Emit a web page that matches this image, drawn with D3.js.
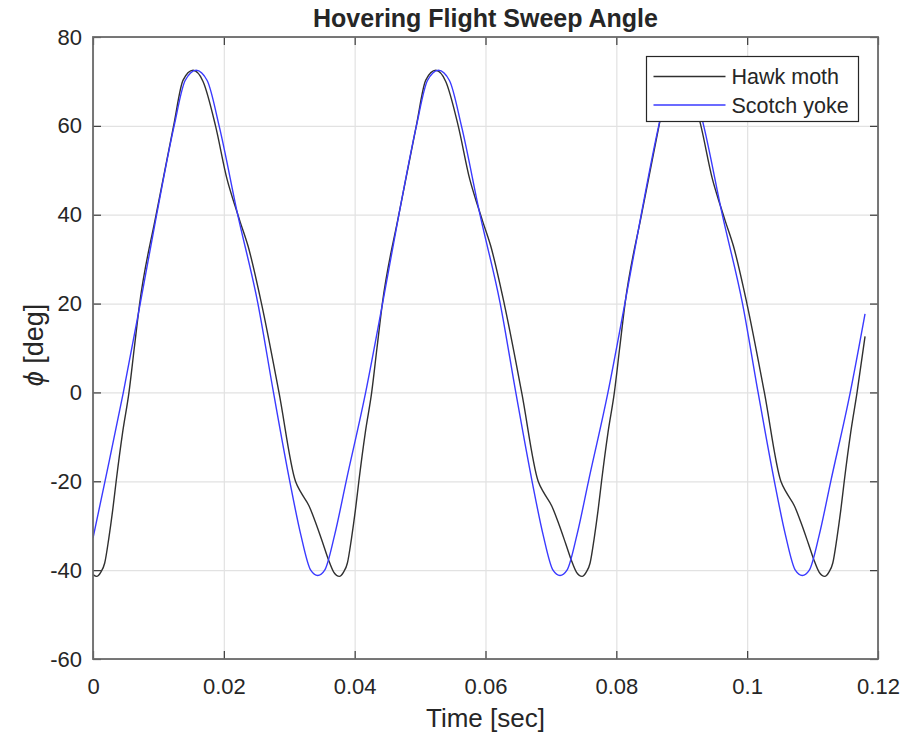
<!DOCTYPE html>
<html>
<head>
<meta charset="utf-8">
<script src="https://cdn.jsdelivr.net/npm/d3@7"></script>
<style>
    body { margin: 0; background: #fff; }
    text { font-family: "Liberation Sans", Arial, sans-serif; fill: #262626; }
</style>
</head>
<body>
<div id="GraphDiv"></div>
<script>
// Data: time [sec] and sweep angle phi [deg].
const hawkTime = [0, 0.00056, 0.00118, 0.00179, 0.00240, 0.00301, 0.00354, 0.00453, 0.00550, 0.00631, 0.00713,
    0.00965, 0.01232, 0.01377, 0.01530, 0.01682, 0.01873, 0.02049, 0.02171, 0.02247, 0.02369,
    0.02576, 0.02843, 0.03095, 0.03179, 0.03301, 0.03408, 0.03515, 0.03598, 0.03682, 0.03766,
    0.03828, 0.03889, 0.03950, 0.04011, 0.04064, 0.04163, 0.04260, 0.04341, 0.04423, 0.04675,
    0.04942, 0.05087, 0.05240, 0.05392, 0.05583, 0.05759, 0.05881, 0.05957, 0.06079, 0.06286,
    0.06553, 0.06805, 0.06889, 0.07011, 0.07118, 0.07225, 0.07308, 0.07392, 0.07476,
    0.07538, 0.07599, 0.07660, 0.07721, 0.07774, 0.07873, 0.07970, 0.08051, 0.08133, 0.08385,
    0.08652, 0.08797, 0.08950, 0.09102, 0.09293, 0.09469, 0.09591, 0.09667, 0.09789, 0.09996,
    0.10263, 0.10515, 0.10599, 0.10721, 0.10828, 0.10935, 0.11018, 0.11102, 0.11186,
    0.11248, 0.11309, 0.11370, 0.11431, 0.11484, 0.11583, 0.11680, 0.11802];
const hawkPhi = [-41.0, -41.4, -40.5, -38.4, -33, -26.5, -20, -9, 0, 10, 20,
    40, 60, 70.3, 72.5, 70.0, 60, 48, 42, 38.5, 33,
    20, 0, -20, -22.5, -25.5, -29.5, -34, -37.6, -40.5, -41.4,
    -40.5, -38.4, -33, -26.5, -20, -9, 0, 10, 20, 40,
    60, 70.3, 72.5, 70.0, 60, 48, 42, 38.5, 33, 20,
    0, -20, -22.5, -25.5, -29.5, -34, -37.6, -40.5, -41.4,
    -40.5, -38.4, -33, -26.5, -20, -9, 0, 10, 20, 40,
    60, 70.3, 72.5, 70.0, 60, 48, 42, 38.5, 33, 20,
    0, -20, -22.5, -25.5, -29.5, -34, -37.6, -40.5, -41.4,
    -40.5, -38.4, -33, -26.5, -20, -9, 0, 12.6];

const yokeTime = [0, 0.00183, 0.00464, 0.00722, 0.00973, 0.01240, 0.01409, 0.01577, 0.01745, 0.01928,
    0.02212, 0.02521, 0.02759, 0.03008, 0.03176, 0.03328, 0.03435, 0.03542, 0.03695, 0.03870,
    0.04168, 0.04426, 0.04676, 0.04944, 0.05113, 0.05281, 0.05449, 0.05632, 0.05916, 0.06225,
    0.06463, 0.06712, 0.06880, 0.07032, 0.07139, 0.07246, 0.07399, 0.07574, 0.07872, 0.08130,
    0.08380, 0.08648, 0.08817, 0.08985, 0.09153, 0.09336, 0.09620, 0.09929, 0.10167, 0.10416,
    0.10584, 0.10736, 0.10843, 0.10950, 0.11103, 0.11278, 0.11576, 0.11802];
const yokePhi = [-32.8, -20, 0, 20, 40, 60, 70.2, 72.5, 70.2, 60,
    40, 20, 0, -20, -32, -40, -41.2, -40, -32, -20,
    0, 20, 40, 60, 70.2, 72.5, 70.2, 60, 40, 20,
    0, -20, -32, -40, -41.2, -40, -32, -20, 0, 20,
    40, 60, 70.2, 72.5, 70.2, 60, 40, 20, 0, -20,
    -32, -40, -41.2, -40, -32, -20, 0, 17.7];

const seriesNames = ["Hawk moth", "Scotch yoke"];
const seriesColours = ["#303030", "#3a3aff"];
const xTicks = [0, 0.02, 0.04, 0.06, 0.08, 0.1, 0.12];
const yTicks = [-60, -40, -20, 0, 20, 40, 60, 80];

// Layout.
let width = 906
let height = 735
let margins = {"left": 93, "right": 28, "top": 37, "bottom": 76};
let innerW = width - margins.left - margins.right
let innerH = height - margins.top - margins.bottom

let svg = d3.select("#GraphDiv")
    .append("svg")
    .attr("width", width)
    .attr("height", height)
    .append("g")
    .attr("transform", "translate(" + margins.left + "," + margins.top + ")");

// Scales.
let xRange = d3.scaleLinear().domain([0, 0.12]).range([0, innerW]);
let yRange = d3.scaleLinear().domain([-60, 80]).range([innerH, 0]);

// Grid lines.
svg.append("g")
    .attr("transform", "translate(0," + innerH + ")")
    .call(d3.axisBottom(xRange).tickValues(xTicks).tickSize(-innerH).tickFormat(""))
    .call(g => g.select(".domain").remove())
    .call(g => g.selectAll("line").attr("stroke", "#e2e2e2").attr("stroke-width", 1.2));
svg.append("g")
    .call(d3.axisLeft(yRange).tickValues(yTicks).tickSize(-innerW).tickFormat(""))
    .call(g => g.select(".domain").remove())
    .call(g => g.selectAll("line").attr("stroke", "#e2e2e2").attr("stroke-width", 1.2));

// Curves.
svg.append("clipPath").attr("id", "plotClip")
    .append("rect").attr("width", innerW).attr("height", innerH);

let line = d3.line()
    .x(d => xRange(d[0]))
    .y(d => yRange(d[1]))
    .curve(d3.curveMonotoneX);

let series = [
    d3.zip(hawkTime, hawkPhi),
    d3.zip(yokeTime, yokePhi)
];

svg.append("g")
    .attr("clip-path", "url(#plotClip)")
    .selectAll("path")
    .data(series)
    .enter()
    .append("path")
    .attr("d", line)
    .attr("fill", "none")
    .attr("stroke", (d, i) => seriesColours[i])
    .attr("stroke-width", 1.4);

// Axes with inward ticks on all four sides.
let fmt = d => String(d);
let tickStyle = g => {
    g.select(".domain").remove();
    g.selectAll("line").attr("stroke", "#3a3a3a").attr("stroke-width", 1.2);
    g.selectAll("text").attr("fill", "#262626").style("font-size", "22px");
};

svg.append("g")
    .attr("transform", "translate(0," + innerH + ")")
    .call(d3.axisBottom(xRange).tickValues(xTicks).tickFormat(fmt).tickSizeInner(-8).tickSizeOuter(0).tickPadding(19))
    .call(tickStyle);
svg.append("g")
    .call(d3.axisTop(xRange).tickValues(xTicks).tickFormat("").tickSizeInner(-8).tickSizeOuter(0))
    .call(tickStyle);
svg.append("g")
    .call(d3.axisLeft(yRange).tickValues(yTicks).tickFormat(fmt).tickSizeInner(-8).tickSizeOuter(0).tickPadding(11))
    .call(tickStyle);
svg.append("g")
    .attr("transform", "translate(" + innerW + ",0)")
    .call(d3.axisRight(yRange).tickValues(yTicks).tickFormat("").tickSizeInner(-8).tickSizeOuter(0))
    .call(tickStyle);

// Box.
svg.append("rect")
    .attr("width", innerW)
    .attr("height", innerH)
    .attr("fill", "none")
    .attr("stroke", "#6a6a6a")
    .attr("stroke-width", 1.8);

// Title and axis labels.
svg.append("text")
    .attr("x", innerW / 2)
    .attr("y", -10)
    .style("text-anchor", "middle")
    .style("font-size", "25px")
    .style("font-weight", "bold")
    .attr("fill", "#000")
    .text("Hovering Flight Sweep Angle");

svg.append("text")
    .attr("x", innerW / 2)
    .attr("y", innerH + 68)
    .style("text-anchor", "middle")
    .style("font-size", "26px")
    .text("Time [sec]");

let yLabel = svg.append("text")
    .attr("transform", "translate(" + (-50) + "," + (innerH / 2 - 3) + ") rotate(-90)")
    .style("text-anchor", "middle")
    .style("font-size", "27px")
    .attr("fill", "#404040");
yLabel.append("tspan").style("font-style", "italic").text("ϕ");
yLabel.append("tspan").text(" [deg]");

// Legend.
let legend = svg.append("g")
    .attr("transform", "translate(" + (646.5 - margins.left) + "," + (56.5 - margins.top) + ")");
legend.append("rect")
    .attr("width", 212)
    .attr("height", 65)
    .attr("fill", "#fff")
    .attr("stroke", "#262626")
    .attr("stroke-width", 1.2);
let entry = legend.selectAll(".entry")
    .data(seriesNames)
    .enter()
    .append("g")
    .attr("transform", (d, i) => "translate(0," + (20 + i * 28.5) + ")");
entry.append("line")
    .attr("x1", 7).attr("x2", 79)
    .attr("stroke", (d, i) => seriesColours[i])
    .attr("stroke-width", 1.4);
entry.append("text")
    .attr("x", 85)
    .attr("dy", "0.36em")
    .style("font-size", "21.5px")
    .attr("fill", "#000")
    .text(d => d);
</script>
</body>
</html>
